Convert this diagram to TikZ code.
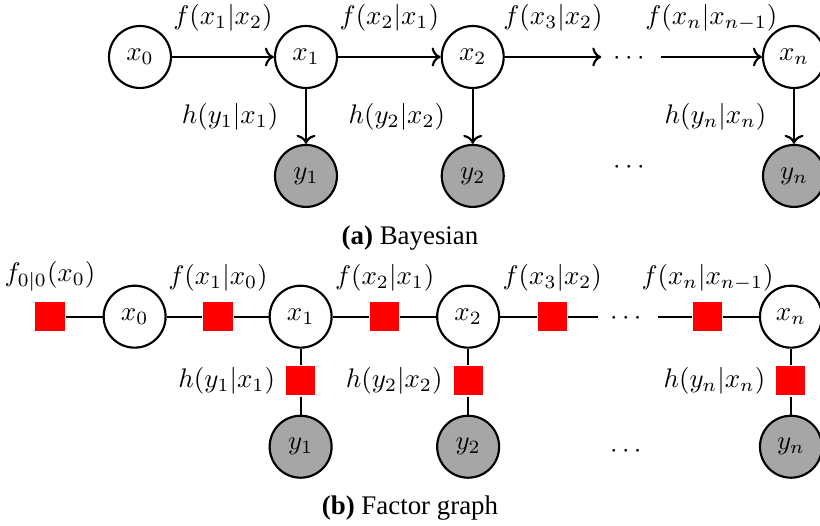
\documentclass[tikz,border=0pt]{standalone}
\usepackage{amsmath}
\usepackage{fontspec}
\newfontfamily\capfont{Liberation Serif}
\usepackage{tikz}
\usetikzlibrary{arrows.meta, positioning}

\begin{document}
\begin{tikzpicture}[
  var/.style={circle, draw, thick, fill=white, minimum size=8.1mm, inner sep=0pt},
  obs/.style={var, fill=gray!70},
  fac/.style={rectangle, fill=red, minimum size=3.8mm, inner sep=0pt},
  dots/.style={inner sep=4pt},
  every path/.style={thick}]
  \useasboundingbox (0,0) rectangle (10.72,-6.876);
  % (a) Bayesian network, placed by absolute coordinates
  \node[var] (ax0) at (1.83,-0.745)  {$x_0$};
  \node[var] (ax1) at (4.0,-0.745)   {$x_1$};
  \node[var] (ax2) at (6.18,-0.745)  {$x_2$};
  \node[dots] (adt) at (8.25,-0.77)  {$\cdots$};
  \node[var] (axn) at (10.38,-0.745) {$x_n$};
  \node[obs] (ay1) at (4.0,-2.30)    {$y_1$};
  \node[obs] (ay2) at (6.18,-2.30)   {$y_2$};
  \node (ady) at (8.25,-2.19)        {$\cdots$};
  \node[obs] (ayn) at (10.38,-2.30)  {$y_n$};
  % transitions (dots kept on the line with -|)
  \draw[->] (ax0) -- node[above=2mm] {$f(x_1|x_2)$} (ax1);
  \draw[->] (ax1) -- node[above=2mm] {$f(x_2|x_1)$} (ax2);
  \draw[->] (ax2) -- node[above=2mm] {$f(x_3|x_2)$} (ax2 -| adt.west);
  \draw[->] (axn -| adt.east) -- node[above=2mm] {$f(x_n|x_{n-1})$} (axn);
  % observations
  \draw[->] (ax1) -- node[left=2.3mm] {$h(y_1|x_1)$} (ay1);
  \draw[->] (ax2) -- node[left=2.3mm] {$h(y_2|x_2)$} (ay2);
  \draw[->] (axn) -- node[left=2.3mm] {$h(y_n|x_n)$} (ayn);
  \node[font=\capfont] (capa) at (5.36,-3.11) {\textbf{(a)} Bayesian};

  % (b) factor graph
  \node[fac, label={above:$f_{0|0}(x_0)$}] (f0) at (0.654,-4.14) {};
  \node[var] (bx0) at (1.76,-4.14)  {$x_0$};
  \node[fac, label={above:$f(x_1|x_0)$}] (f1) at (2.85,-4.14) {};
  \node[var] (bx1) at (3.93,-4.14)  {$x_1$};
  \node[fac, label={above:$f(x_2|x_1)$}] (f2) at (5.03,-4.14) {};
  \node[var] (bx2) at (6.12,-4.14)  {$x_2$};
  \node[fac, label={above:$f(x_3|x_2)$}] (f3) at (7.22,-4.14) {};
  \node[dots] (bdt) at (8.21,-4.165) {$\cdots$};
  \node[fac, label={above:$f(x_n|x_{n-1})$}] (fn) at (9.25,-4.14) {};
  \node[var] (bxn) at (10.34,-4.14) {$x_n$};
  \node[fac, label={left:$h(y_1|x_1)$}] (h1) at (3.93,-4.98)  {};
  \node[fac, label={left:$h(y_2|x_2)$}] (h2) at (6.12,-4.98)  {};
  \node[fac, label={left:$h(y_n|x_n)$}] (hn) at (10.34,-4.98) {};
  \node[obs] (by1) at (3.93,-5.84)  {$y_1$};
  \node[obs] (by2) at (6.12,-5.84)  {$y_2$};
  \node (bdy) at (8.21,-5.90)       {$\cdots$};
  \node[obs] (byn) at (10.34,-5.84) {$y_n$};
  % chain
  \draw (f0) -- (bx0) -- (f1) -- (bx1) -- (f2) -- (bx2) -- (f3) -- (f3 -| bdt.west);
  \draw (fn -| bdt.east) -- (fn) -- (bxn);
  % observation factors
  \draw (bx1) -- (h1) -- (by1);
  \draw (bx2) -- (h2) -- (by2);
  \draw (bxn) -- (hn) -- (byn);
  \node[font=\capfont] (capb) at (5.36,-6.64) {\textbf{(b)} Factor graph};
\end{tikzpicture}
\end{document}
